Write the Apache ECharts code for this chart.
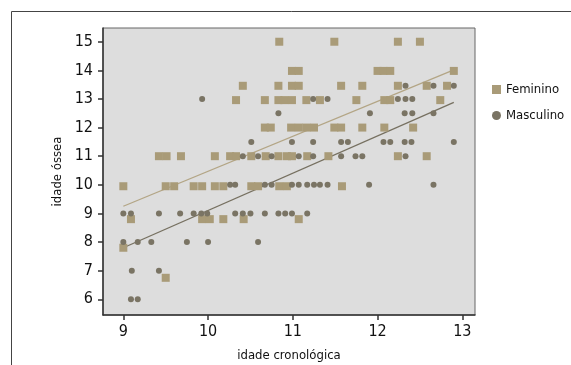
<!DOCTYPE html>
<html>
<head>
<meta charset="utf-8">
<script src="https://cdn.jsdelivr.net/npm/echarts@6/dist/echarts.min.js"></script>
<style>
  html, body { margin: 0; padding: 0; background: #fff; }
  #chart { width: 571px; height: 365px; }
</style>
</head>
<body>
<div id="chart"></div>
<script>
// Feminino (quadrados)
const femX = [
  10.84, 11.49, 12.24, 12.5,
  10.99, 11.07, 12.0, 12.07, 12.15, 12.9,
  10.41, 10.83, 10.99, 11.07, 11.57, 11.82, 12.24, 12.58, 12.82,
  10.33, 10.67, 10.83, 10.9, 10.99, 11.16, 11.32, 11.75, 12.08, 12.15, 12.74,
  10.67, 10.74, 10.98, 11.07, 11.16, 11.25, 11.49, 11.57, 11.82, 12.08, 12.42,
  9.42, 9.51, 9.68, 10.08, 10.26, 10.33, 10.51, 10.68, 10.83, 10.93, 10.99, 11.17, 11.42, 12.24, 12.58,
  9.0, 9.5, 9.6, 9.83, 9.93, 10.08, 10.18, 10.51, 10.59, 10.84, 10.93, 11.58,
  9.09, 9.93, 10.02, 10.18, 10.42, 11.07,
  9.0,
  9.5
];
const femY = [
  15, 15, 15, 15,
  13.98, 13.98, 13.98, 13.98, 13.98, 13.98,
  13.46, 13.46, 13.46, 13.46, 13.46, 13.46, 13.46, 13.46, 13.46,
  12.96, 12.96, 12.96, 12.96, 12.96, 12.96, 12.96, 12.96, 12.96, 12.96, 12.96,
  12, 12, 12, 12, 12, 12, 12, 12, 12, 12, 12,
  11, 11, 11, 11, 11, 11, 11, 11, 11, 11, 11, 11, 11, 11, 11,
  9.95, 9.95, 9.95, 9.95, 9.95, 9.95, 9.95, 9.95, 9.95, 9.95, 9.95, 9.95,
  8.8, 8.8, 8.8, 8.8, 8.8, 8.8,
  7.8,
  6.75
];

// Masculino (círculos)
const mascX = [
  9.93, 11.24, 11.41, 12.24, 12.33, 12.41,
  12.33, 12.66, 12.9,
  10.83, 11.91, 12.32, 12.41, 12.66,
  10.51, 10.99, 11.24, 11.57, 11.65, 12.07, 12.15, 12.32, 12.4, 12.9,
  10.41, 10.59, 10.75, 11.07, 11.24, 11.57, 11.74, 11.82, 12.33,
  10.26, 10.32, 10.67, 10.75, 10.99, 11.07, 11.17, 11.25, 11.32, 11.41, 11.9, 12.66,
  9.0, 9.09, 9.42, 9.67, 9.83, 9.92, 9.99, 10.32, 10.41, 10.5, 10.67, 10.83, 10.91, 10.99, 11.17,
  9.0, 9.17, 9.33, 9.75, 10.0, 10.59,
  9.1, 9.42,
  9.09, 9.17
];
const mascY = [
  13, 13, 13, 13, 13, 13,
  13.46, 13.46, 13.46,
  12.5, 12.5, 12.5, 12.5, 12.5,
  11.5, 11.5, 11.5, 11.5, 11.5, 11.5, 11.5, 11.5, 11.5, 11.5,
  11, 11, 11, 11, 11, 11, 11, 11, 11,
  10, 10, 10, 10, 10, 10, 10, 10, 10, 10, 10, 10,
  9, 9, 9, 9, 9, 9, 9, 9, 9, 9, 9, 9, 9, 9, 9,
  8, 8, 8, 8, 8, 8,
  7, 7,
  6, 6
];

// retas de regressão
const lineX = [9, 12.9];
const femLineY = [9.25, 14.02];
const mascLineY = [7.8, 12.88];

const xTicks = [9, 10, 11, 12, 13];
const yTicks = [6, 7, 8, 9, 10, 11, 12, 13, 14, 15];

const femColor = '#a99b78';
const mascColor = '#7a7464';
const font = '"Liberation Sans Narrow", "DejaVu Sans Condensed", sans-serif';

const zip = (xs, ys) => xs.map((x, i) => [x, ys[i]]);

const chart = echarts.init(document.getElementById('chart'));
chart.setOption({
  animation: false,
  backgroundColor: '#fff',
  graphic: [{
    type: 'polyline',
    shape: { points: [[11.5, 365], [11.5, 11.5], [571, 11.5]] },
    style: { stroke: '#444', lineWidth: 1, fill: null }
  }],
  grid: {
    left: 103, right: 96, top: 28, bottom: 50,
    containLabel: false,
    outerBoundsMode: 'none',
    show: true,
    backgroundColor: '#dddddd',
    borderColor: '#666',
    borderWidth: 1
  },
  legend: {
    orient: 'vertical',
    left: 487, top: 78,
    itemWidth: 9, itemHeight: 9, itemGap: 13,
    data: ['Feminino', 'Masculino'],
    textStyle: { fontFamily: font, fontSize: 13, color: '#111' }
  },
  xAxis: {
    type: 'value',
    min: 8.76, max: 13.15,
    name: 'idade cronológica',
    nameLocation: 'middle',
    nameGap: 34,
    nameTextStyle: { fontFamily: font, fontSize: 13, color: '#111' },
    splitLine: { show: false },
    axisLine: { lineStyle: { color: '#333', width: 1.5 } },
    axisTick: { show: true, length: 5, customValues: xTicks, lineStyle: { color: '#333', width: 1.5 } },
    axisLabel: { customValues: xTicks, fontFamily: font, fontSize: 16, color: '#111', margin: 9 }
  },
  yAxis: {
    type: 'value',
    min: 5.45, max: 15.48,
    name: 'idade óssea',
    nameLocation: 'middle',
    nameRotate: 90,
    nameGap: 36,
    nameTextStyle: { fontFamily: font, fontSize: 13, color: '#111' },
    splitLine: { show: false },
    axisLine: { show: true, lineStyle: { color: '#333', width: 1.5 } },
    axisTick: { show: true, length: 5, customValues: yTicks, lineStyle: { color: '#333', width: 1.5 } },
    axisLabel: { customValues: yTicks, fontFamily: font, fontSize: 16, color: '#111', margin: 10 }
  },
  series: [
    {
      name: 'Feminino',
      type: 'scatter',
      symbol: 'rect',
      symbolSize: 8,
      itemStyle: { color: femColor, opacity: 1 },
      data: zip(femX, femY),
      z: 3
    },
    {
      name: 'Masculino',
      type: 'scatter',
      symbol: 'circle',
      symbolSize: 6,
      itemStyle: { color: mascColor, opacity: 1 },
      data: zip(mascX, mascY),
      z: 4
    },
    {
      name: 'reta F',
      type: 'line',
      symbol: 'none',
      lineStyle: { color: '#b3a585', width: 1.3 },
      data: zip(lineX, femLineY),
      z: 2
    },
    {
      name: 'reta M',
      type: 'line',
      symbol: 'none',
      lineStyle: { color: '#767060', width: 1.3 },
      data: zip(lineX, mascLineY),
      z: 2
    }
  ]
});
</script>
</body>
</html>
